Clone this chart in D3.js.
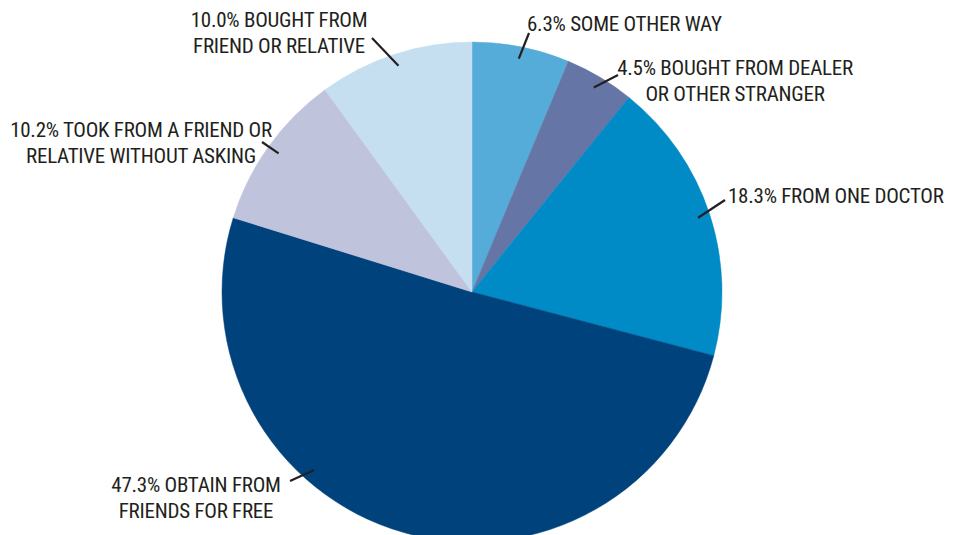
<!DOCTYPE html>
<html>
<head>
<meta charset="utf-8">
<script src="https://cdn.jsdelivr.net/npm/d3@7"></script>
<style>
  html, body { margin: 0; padding: 0; background: #fff; }
  svg text { font-family: "Liberation Sans Narrow", "Roboto Condensed", "Liberation Sans", sans-serif; fill: #231f20; letter-spacing: -0.25px; }
</style>
</head>
<body>
<svg id="chart" width="954" height="535"></svg>
<script>
// slices, clockwise from 12 o'clock
const categories = ["SOME OTHER WAY", "BOUGHT FROM DEALER OR OTHER STRANGER", "FROM ONE DOCTOR",
  "OBTAIN FROM FRIENDS FOR FREE", "TOOK FROM A FRIEND OR RELATIVE WITHOUT ASKING", "BOUGHT FROM FRIEND OR RELATIVE"];
// printed percentages
const percents = [6.3, 4.5, 18.3, 47.3, 10.2, 10.0];
// slice sizes as drawn (the big slice is drawn larger than its printed 47.3%)
const shares = [6.3, 4.5, 18.3, 50.7, 10.2, 10.0];
const colors = ["#55acd9", "#6575a6", "#008bc6", "#00427c", "#c0c3dc", "#c5dff0"];
// label text, line by line
const labelLines = [
  ["6.3% SOME OTHER WAY"],
  ["4.5% BOUGHT FROM DEALER", "OR OTHER STRANGER"],
  ["18.3% FROM ONE DOCTOR"],
  ["47.3% OBTAIN FROM", "FRIENDS FOR FREE"],
  ["10.2% TOOK FROM A FRIEND OR", "RELATIVE WITHOUT ASKING"],
  ["10.0% BOUGHT FROM", "FRIEND OR RELATIVE"]
];

// layout of the labels: text anchor point, leader outer end, where along the slice the leader starts
const labelLayout = [
  {x: 527, y: 31, anchor: "start", lx: 529, ly: 33, at: 0.5},
  {x: 735, y: 75, anchor: "middle", lx: 618, ly: 75, at: 0.5},
  {x: 728, y: 203, anchor: "start", lx: 725, ly: 200, at: 0.5},
  {x: 196, y: 492, anchor: "middle", lx: 290, ly: 481, at: 0.64},
  {x: 141, y: 137, anchor: "middle", lx: 262, ly: 142, at: 0.5},
  {x: 279, y: 27, anchor: "middle", lx: 372, ly: 38, at: 0.5}
];

const cx = 472, cy = 292, radius = 250, leaderR = 238, lineGap = 26;

const svg = d3.select("#chart");
const g = svg.append("g").attr("transform", `translate(${cx},${cy})`);

const pie = d3.pie().sort(null).value(d => d.share);
const arc = d3.arc().innerRadius(0).outerRadius(radius);

const data = categories.map((c, i) => ({name: c, pct: percents[i], share: shares[i], color: colors[i], lines: labelLines[i], lay: labelLayout[i]}));
const arcs = pie(data);

g.selectAll("path.slice")
  .data(arcs)
  .enter()
  .append("path")
    .attr("class", "slice")
    .attr("d", arc)
    .attr("fill", d => d.data.color)
    .attr("stroke", d => d.data.color)
    .attr("stroke-width", 0.5);

// leader lines
const leaderEnd = (d) => {
  const a = d.startAngle + (d.endAngle - d.startAngle) * d.data.lay.at;
  return [cx + leaderR * Math.sin(a), cy - leaderR * Math.cos(a)];
};

svg.selectAll("line.leader")
  .data(arcs)
  .enter()
  .append("line")
    .attr("class", "leader")
    .attr("x1", d => d.data.lay.lx)
    .attr("y1", d => d.data.lay.ly)
    .attr("x2", d => leaderEnd(d)[0])
    .attr("y2", d => leaderEnd(d)[1])
    .attr("stroke", "#231f20")
    .attr("stroke-width", 2.2);

// labels
const labels = svg.selectAll("text.label")
  .data(arcs)
  .enter()
  .append("text")
    .attr("class", "label")
    .attr("text-anchor", d => d.data.lay.anchor)
    .attr("font-size", 21);

labels.selectAll("tspan")
  .data(d => d.data.lines.map((t, i) => ({t, i, lay: d.data.lay})))
  .enter()
  .append("tspan")
    .attr("x", d => d.lay.x)
    .attr("y", d => d.lay.y + d.i * lineGap)
    .text(d => d.t);
</script>
</body>
</html>
